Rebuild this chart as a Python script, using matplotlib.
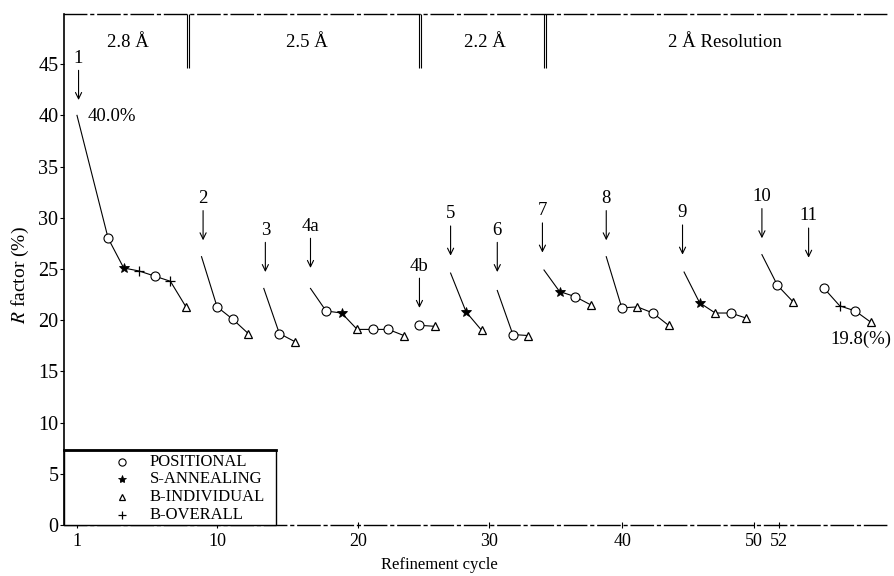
import numpy as np
import matplotlib
matplotlib.use('Agg')
import matplotlib.pyplot as plt
from matplotlib.patches import Rectangle

plt.rcParams['font.family'] = ['Liberation Serif', 'DejaVu Serif']
plt.rcParams['mathtext.fontset'] = 'stix'

# R factor per refinement cycle, grouped by macro-cycle (segment)
# step: start = value before refinement, pos = positional,
# sa = simulated annealing, bi = B individual, bo = B overall
segment = ['1'] * 7 + ['2'] * 4 + ['3'] * 3 + ['4a'] * 7 + ['4b'] * 2 + \
          ['5'] * 3 + ['6'] * 3 + ['7'] * 4 + ['8'] * 5 + ['9'] * 5 + \
          ['10'] * 3 + ['11'] * 4
cycle = [1, 3, 4, 5, 6, 7, 8,
         9, 10, 11, 12,
         13, 14, 15,
         16, 17, 18, 19, 20, 21, 22,
         23, 24,
         25, 26, 27,
         28, 29, 30,
         31, 32, 33, 34,
         35, 36, 37, 38, 39,
         40, 41, 42, 43, 44,
         45, 46, 47,
         49, 50, 51, 52]
r_factor = [40.0, 28.0, 25.1, 24.8, 24.3, 23.8, 21.3,
            26.2, 21.3, 20.1, 18.7,
            23.1, 18.7, 17.9,
            23.1, 20.9, 20.7, 19.1, 19.1, 19.1, 18.5,
            19.5, 19.4,
            24.6, 20.8, 19.0,
            22.9, 18.6, 18.5,
            24.9, 22.8, 22.3, 21.5,
            26.2, 21.2, 21.3, 20.7, 19.5,
            24.7, 21.7, 20.7, 20.7, 20.2,
            26.4, 23.4, 21.8,
            23.1, 21.4, 20.9, 19.8]
step = ['start', 'pos', 'sa', 'bo', 'pos', 'bo', 'bi',
        'start', 'pos', 'pos', 'bi',
        'start', 'pos', 'bi',
        'start', 'pos', 'sa', 'bi', 'pos', 'pos', 'bi',
        'pos', 'bi',
        'start', 'sa', 'bi',
        'start', 'pos', 'bi',
        'start', 'sa', 'pos', 'bi',
        'start', 'pos', 'bi', 'pos', 'bi',
        'start', 'sa', 'bi', 'pos', 'bi',
        'start', 'pos', 'bi',
        'pos', 'bo', 'pos', 'bi']

# arrows marking the start of each macro-cycle
arrow_labels = ['1', '2', '3', '4a', '4b', '5', '6', '7', '8', '9', '10', '11']
arrow_x = [1.1, 9.1, 13.1, 16.0, 23.0, 25.0, 28.0, 30.9, 35.0, 39.9, 45.0, 48.0]
arrow_tip = [41.5, 27.8, 24.7, 25.1, 21.2, 26.3, 24.7, 26.6, 27.8, 26.4, 28.0, 26.1]

# resolution bands along the top
res_labels = ['2.8 Å', '2.5 Å', '2.2 Å', '2 Å Resolution']
res_x = [4.3, 15.8, 27.2, 42.6]
res_bounds = [8.13, 23.04, 31.08]

# x tick labels as printed on the original axis
tick_labels = ['1', '10', '20', '30', '40', '50', '52']
tick_pos = [1, 10, 19.06, 27.48, 36.03, 44.5, 46.1]

legend_names = ['POSITIONAL', 'S-ANNEALING', 'B-INDIVIDUAL', 'B-OVERALL']
legend_steps = ['pos', 'sa', 'bi', 'bo']

marker_style = {
    'pos': dict(marker='o', ms=6.5, mfc='white', mec='black', mew=0.8),
    'sa': dict(marker='*', ms=7.5, mfc='black', mec='black', mew=0.6),
    'bi': dict(marker='^', ms=6, mfc='white', mec='black', mew=0.9),
    'bo': dict(marker='+', ms=7, mec='black', mew=0.9),
}

cycle = np.array(cycle)
r_factor = np.array(r_factor)
segment = np.array(segment)
step = np.array(step)

fig = plt.figure(figsize=(8.95, 5.76), dpi=100)
ax = fig.add_axes([64 / 895, 1 - 525 / 576, 824 / 895, 511 / 576])
ax.set_xlim(0.165, 53.1)
ax.set_ylim(0, 49.9)

seen = []
for s in segment:
    if s not in seen:
        seen.append(s)
for s in seen:
    m = segment == s
    ax.plot(cycle[m], r_factor[m], color='black', lw=0.8, zorder=2)
    for k, st in marker_style.items():
        mk = m & (step == k)
        if mk.any():
            ax.plot(cycle[mk], r_factor[mk], linestyle='none', zorder=3, **st)

for lab, x, tip in zip(arrow_labels, arrow_x, arrow_tip):
    top = tip + 2.9
    ax.annotate('', xy=(x, tip), xytext=(x, top),
                arrowprops=dict(arrowstyle='->,head_length=0.45,head_width=0.22',
                                color='black', lw=0.8, shrinkA=0, shrinkB=0))
    ax.text(x, top + 0.35, lab, ha='center', va='bottom', fontsize=13.5)

for b in res_bounds:
    ax.vlines([b - 0.07, b + 0.07], 44.6, 49.9, color='black', lw=0.8)
for lab, x in zip(res_labels, res_x):
    ax.text(x, 47.1, lab, ha='center', va='center', fontsize=13.5)

ax.text(1.7, 39.9, '40.0%', ha='left', va='center', fontsize=13.5)
ax.text(49.4, 18.1, '19.8(%)', ha='left', va='center', fontsize=13.5)

# spines
ax.spines['right'].set_visible(False)
ax.spines['left'].set_linewidth(1.2)
for side in ['top', 'bottom']:
    ax.spines[side].set_linewidth(1.0)
    ax.spines[side].set_linestyle((0, (16, 3, 2, 3)))

ax.set_yticks(np.arange(0, 50, 5))
ax.tick_params(axis='y', direction='out', length=3, width=0.8, pad=1, labelsize=14.5)
ax.set_xticks(tick_pos)
ax.set_xticklabels(tick_labels)
ax.tick_params(axis='x', direction='inout', length=4, width=0.8, pad=4, labelsize=13)

ax.set_ylabel(r'$\mathit{R}$ factor (%)', fontsize=14)
ax.yaxis.set_label_coords(-0.04, 0.49)
ax.set_xlabel('Refinement cycle', fontsize=12)
ax.xaxis.set_label_coords(0.456, -0.062)

# legend box drawn in axes coordinates
lw_box = 0.257
lh_box = 0.147
ax.add_patch(Rectangle((0, 0), lw_box, lh_box, transform=ax.transAxes,
                       fill=True, facecolor='white', edgecolor='black',
                       lw=1.0, clip_on=False, zorder=4))
ax.plot([0, lw_box], [lh_box, lh_box], transform=ax.transAxes, color='black',
        lw=2, clip_on=False, zorder=5)
rows = [0.123, 0.090, 0.055, 0.0196]
for name, st, yy in zip(legend_names, legend_steps, rows):
    sty = dict(marker_style[st])
    sty['ms'] = sty['ms'] * 0.8
    ax.plot([0.0704], [yy], transform=ax.transAxes, linestyle='none',
            clip_on=False, zorder=6, **sty)
    ax.text(0.104, yy, name, transform=ax.transAxes, ha='left', va='center',
            fontsize=12, zorder=6)

fig.savefig('out.png', dpi=100)
